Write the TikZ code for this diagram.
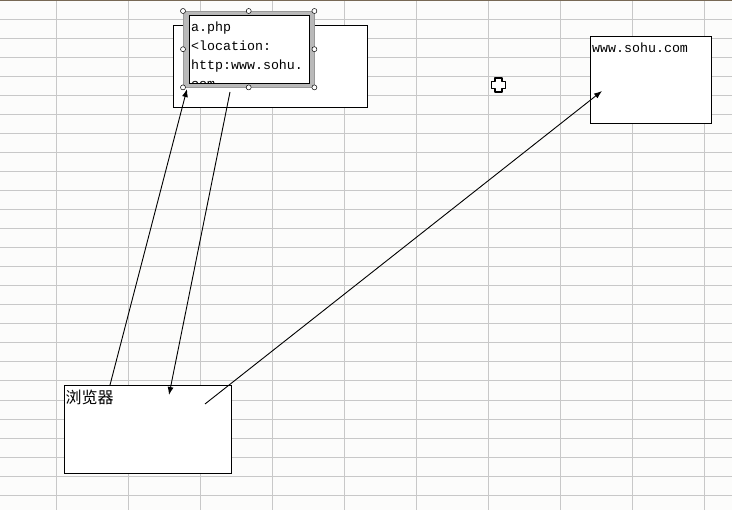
\documentclass[tikz,border=0pt]{standalone}
\usepackage{fontspec}
\setmonofont{Liberation Mono}
\newfontfamily\cjk{Noto Sans CJK SC}
\usepackage{tikz}
\usetikzlibrary{arrows.meta, patterns, positioning}

\definecolor{gridgray}{RGB}{200,200,200}
\definecolor{sheetbg}{RGB}{252,252,251}
\definecolor{topline}{RGB}{120,105,85}

\tikzset{
	box/.style={draw, line width=0.9pt, fill=white, inner sep=0pt, anchor=north west},
	handle/.style={draw, circle, fill=white, line width=0.5pt, inner sep=0pt, minimum size=5pt},
	mono/.style={font=\ttfamily\fontsize{13.3}{19}\selectfont, inner sep=0pt, anchor=north west, align=left},
	arr/.style={line width=0.9pt, -{Latex[length=8pt, width=6pt]}}
}

\begin{document}
\begin{tikzpicture}[x=1pt, y=-1pt]
		\fill[sheetbg] (0, 0) rectangle (732, 510);
		\useasboundingbox (0, 0) rectangle (732, 510);
		% grid of the sheet
		\foreach \i in {0,...,9} {
			\draw[gridgray, line width=1pt] (56+72*\i, 0) -- (56+72*\i, 510);
		}
		\foreach \j in {1,...,26} {
			\draw[gridgray, line width=1pt] (0, 19.05*\j) -- (732, 19.05*\j);
		}
		\draw[topline, line width=1.2pt] (0, 0.5) -- (732, 0.5);

		% boxes
		\node[box, minimum width=194pt, minimum height=82pt] (php) at (173, 25) {};
		\node[box, minimum width=121pt, minimum height=87pt] (sohu) at (590, 36) {};
		\node[box, minimum width=167pt, minimum height=88pt] (browser) at (64, 385) {};

		% selected text box
		\node[draw=gray!80, fill=gray!55, inner sep=0pt, anchor=north west,
			minimum width=131pt, minimum height=76pt] (frame) at (183, 11) {};
		\node[draw=black, line width=0.4pt, fill=white, inner sep=0pt, anchor=north west,
			minimum width=120pt, minimum height=68pt] (phptext) at (189, 15) {};
		\begin{scope}
			\clip (phptext.north west) rectangle (phptext.south east);
			\node[mono] (code) at (191, 22) {a.php\\<location:\\http:www.sohu.\\com};
		\end{scope}
		\foreach \a in {north west, north, north east, west, east, south west, south, south east} {
			\node[handle] at (frame.\a) {};
		}

		% labels
		\node[mono] (sohulabel) at (592, 43) {www.sohu.com};
		\node[inner sep=0pt, anchor=north west, font=\cjk\fontsize{16}{16}\selectfont] (browserlabel) at (65.5, 390) {浏览器};

		% arrow ends
		\coordinate (req1) at (110, 385);
		\coordinate (php in) at (187, 89);
		\coordinate (php out) at (230, 92);
		\coordinate (back) at (169, 395);
		\coordinate (req2) at (205, 404);
		\coordinate (sohu in) at (602, 91);

		\draw[arr] (req1) -- (php in);
		\draw[arr] (php out) -- (back);
		\draw[arr] (req2) -- (sohu in);

		% mouse cursor
		\draw[line width=1.4pt, fill=white, line join=round]
			(495, 78) -- (502, 78) -- (502, 81.5) -- (505.5, 81.5) -- (505.5, 88.5) -- (502, 88.5) -- (502, 92)
			-- (495, 92) -- (495, 88.5) -- (491.5, 88.5) -- (491.5, 81.5) -- (495, 81.5) -- cycle;
	\end{tikzpicture}
\end{document}
